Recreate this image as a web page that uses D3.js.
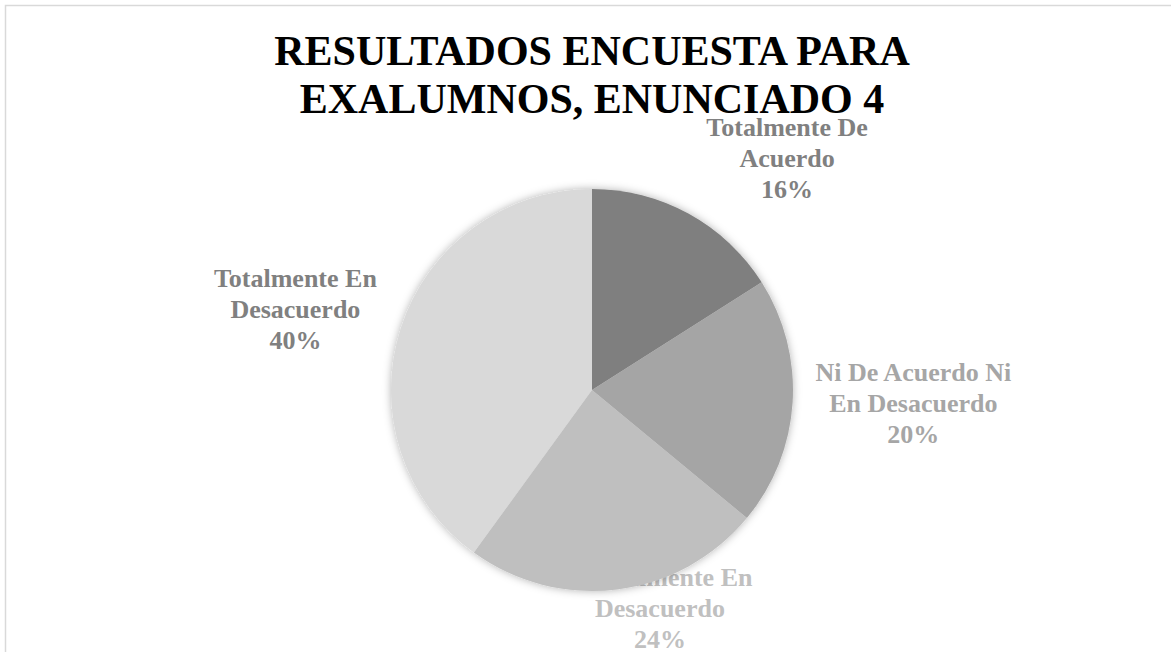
<!DOCTYPE html>
<meta charset="utf-8">
<style>
  body { margin: 0; background: #fff; }
  svg { display: block; }
  .title { font-family: "Liberation Serif", "Times New Roman", serif; font-weight: bold; font-size: 42px; fill: #000; }
  .lbl { font-family: "Liberation Serif", "Times New Roman", serif; font-weight: bold; font-size: 26px; }
</style>
<svg width="1171" height="652"></svg>
<script src="https://d3js.org/d3.v7.min.js"></script>
<script>

// data
var categories = ["Totalmente De Acuerdo", "Ni De Acuerdo Ni En Desacuerdo", "Parcialmente En Desacuerdo", "Totalmente En Desacuerdo"];
var values = [16, 20, 24, 40];
var labelLines = [["Totalmente De", "Acuerdo"], ["Ni De Acuerdo Ni", "En Desacuerdo"], ["Parcialmente En", "Desacuerdo"], ["Totalmente En", "Desacuerdo"]];
var titleLines = ["RESULTADOS ENCUESTA PARA", "EXALUMNOS, ENUNCIADO 4"];

// look
var sliceColors = ["#7f7f7f", "#a5a5a5", "#bfbfbf", "#d9d9d9"];
var labelColors = ["#808080", "#a6a6a6", "#c0c0c0", "#808080"];
// label placement: angle shift (deg) from slice middle, radius factor
var labelPlace = [{da: 11.2, k: 1.51}, {da: -1.3, k: 1.6}, {da: -10.1, k: 1.136}, {da: -2.7, k: 1.53}];

var svg = d3.select("svg"),
    cx = 592, cy = 390, r = 201;

// frame
svg.append("rect")
    .attr("x", 5.5).attr("y", 5.5)
    .attr("width", 1200).attr("height", 700)
    .attr("fill", "none")
    .attr("stroke", "#d9d9d9")
    .attr("stroke-width", 1.5);

var defs = svg.append("defs");
var f = defs.append("filter").attr("id", "shadow")
    .attr("x", "-20%").attr("y", "-20%").attr("width", "140%").attr("height", "140%");
f.append("feDropShadow")
    .attr("dx", 0).attr("dy", 0)
    .attr("stdDeviation", 4)
    .attr("flood-color", "#000")
    .attr("flood-opacity", 0.3);

// title
svg.append("text")
    .attr("class", "title")
    .attr("text-anchor", "middle")
    .selectAll("tspan")
    .data(titleLines)
    .enter().append("tspan")
    .attr("x", cx)
    .attr("y", function (d, i) { return 65 + i * 48; })
    .text(function (d) { return d; });

var pie = d3.pie().sort(null).value(function (d) { return d; });
var arcs = pie(values);
var arc = d3.arc().innerRadius(0).outerRadius(r);

// labels go under the pie (the 24% one is partly covered)
var labels = svg.append("g").attr("transform", "translate(" + cx + "," + cy + ")");
arcs.forEach(function (a, i) {
  var p = labelPlace[i];
  var ang = (a.startAngle + a.endAngle) / 2 + p.da * Math.PI / 180;
  var lx = Math.sin(ang) * r * p.k,
      ly = -Math.cos(ang) * r * p.k;
  var lines = labelLines[i].concat([values[i] + "%"]);
  labels.append("text")
      .attr("class", "lbl")
      .attr("text-anchor", "middle")
      .attr("fill", labelColors[i])
      .selectAll("tspan")
      .data(lines)
      .enter().append("tspan")
      .attr("x", lx)
      .attr("y", function (d, j) { return ly + 9 + (j - 1) * 31; })
      .text(function (d) { return d; });
});

var g = svg.append("g")
    .attr("transform", "translate(" + cx + "," + cy + ")")
    .attr("filter", "url(#shadow)");

g.selectAll("path")
    .data(arcs)
    .enter().append("path")
    .attr("d", arc)
    .attr("fill", function (d, i) { return sliceColors[i]; });

</script>
